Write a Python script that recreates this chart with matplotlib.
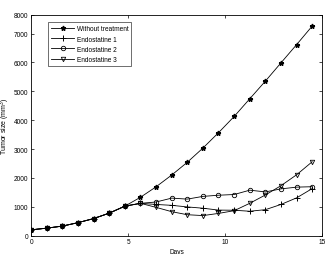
import matplotlib
matplotlib.use('Agg')
import matplotlib.pyplot as plt

plt.rcParams['font.family'] = ['Liberation Sans', 'DejaVu Sans']
plt.rcParams['mathtext.fontset'] = 'custom'
plt.rcParams['mathtext.rm'] = 'Liberation Sans'

# jours de mesure
days = [0, 0.81, 1.61, 2.42, 3.22, 4.03, 4.83, 5.64, 6.44, 7.25,
        8.05, 8.86, 9.66, 10.47, 11.27, 12.08, 12.88, 13.69, 14.49]

common = [200, 260, 330, 450, 590, 780, 1020]  # avant traitement

without = common + [1330, 1690, 2100, 2540, 3035, 3565, 4130, 4740, 5355, 5985, 6620, 7260]
endo1 = common + [1120, 1080, 1050, 995, 950, 885, 880, 845, 900, 1080, 1310, 1630]
endo2 = common + [1120, 1165, 1300, 1265, 1360, 1400, 1425, 1575, 1515, 1620, 1680, 1695]
endo3 = common + [1120, 980, 830, 725, 695, 770, 865, 1120, 1410, 1730, 2110, 2560]

labels = ['Without treatment', 'Endostatine 1', 'Endostatine 2', 'Endostatine 3']
yticks = [0, 1000, 2000, 3000, 4000, 5000, 6000, 7000, 7650]
ytick_labels = ['0', '1000', '2000', '3000', '4000', '5000', '6000', '7000', '8000']

fig = plt.figure(figsize=(3.27, 2.55), dpi=100)
ax = fig.add_axes([0.095, 0.072, 0.89, 0.866])

lw = 0.6
ax.plot(days, without, '-*', color='k', lw=lw, ms=3.5, label=labels[0])
ax.plot(days, endo1, '-+', color='k', lw=lw, ms=4, mew=0.7, label=labels[1])
ax.plot(days, endo2, '-o', color='k', lw=lw, ms=3.2, mew=0.6, mfc='none', label=labels[2])
ax.plot(days, endo3, '-v', color='k', lw=lw, ms=3.2, mew=0.6, mfc='none', label=labels[3])

ax.set_xlim(0, 15)
ax.set_ylim(0, 7650)
ax.set_xticks([0, 5, 10, 15])
ax.set_yticks(yticks)
ax.set_yticklabels(ytick_labels)
ax.tick_params(direction='in', length=2, width=0.5, labelsize=4.7, pad=2,
               top=True, right=True)
for s in ax.spines.values():
    s.set_linewidth(0.6)

ax.set_xlabel('Days', fontsize=4.7, labelpad=2)
ax.set_ylabel('Tumor size (mm$^3$)', fontsize=5)
ax.yaxis.set_label_coords(-0.066, 0.5)

leg = ax.legend(loc='upper left', bbox_to_anchor=(0.059, 0.966), fontsize=4.7,
                frameon=True, fancybox=False, edgecolor='k', handlelength=3.5,
                borderpad=0.45, labelspacing=0.5, handletextpad=0.4,
                borderaxespad=0)
leg.get_frame().set_linewidth(0.5)

fig.savefig('out.png', dpi=100)
